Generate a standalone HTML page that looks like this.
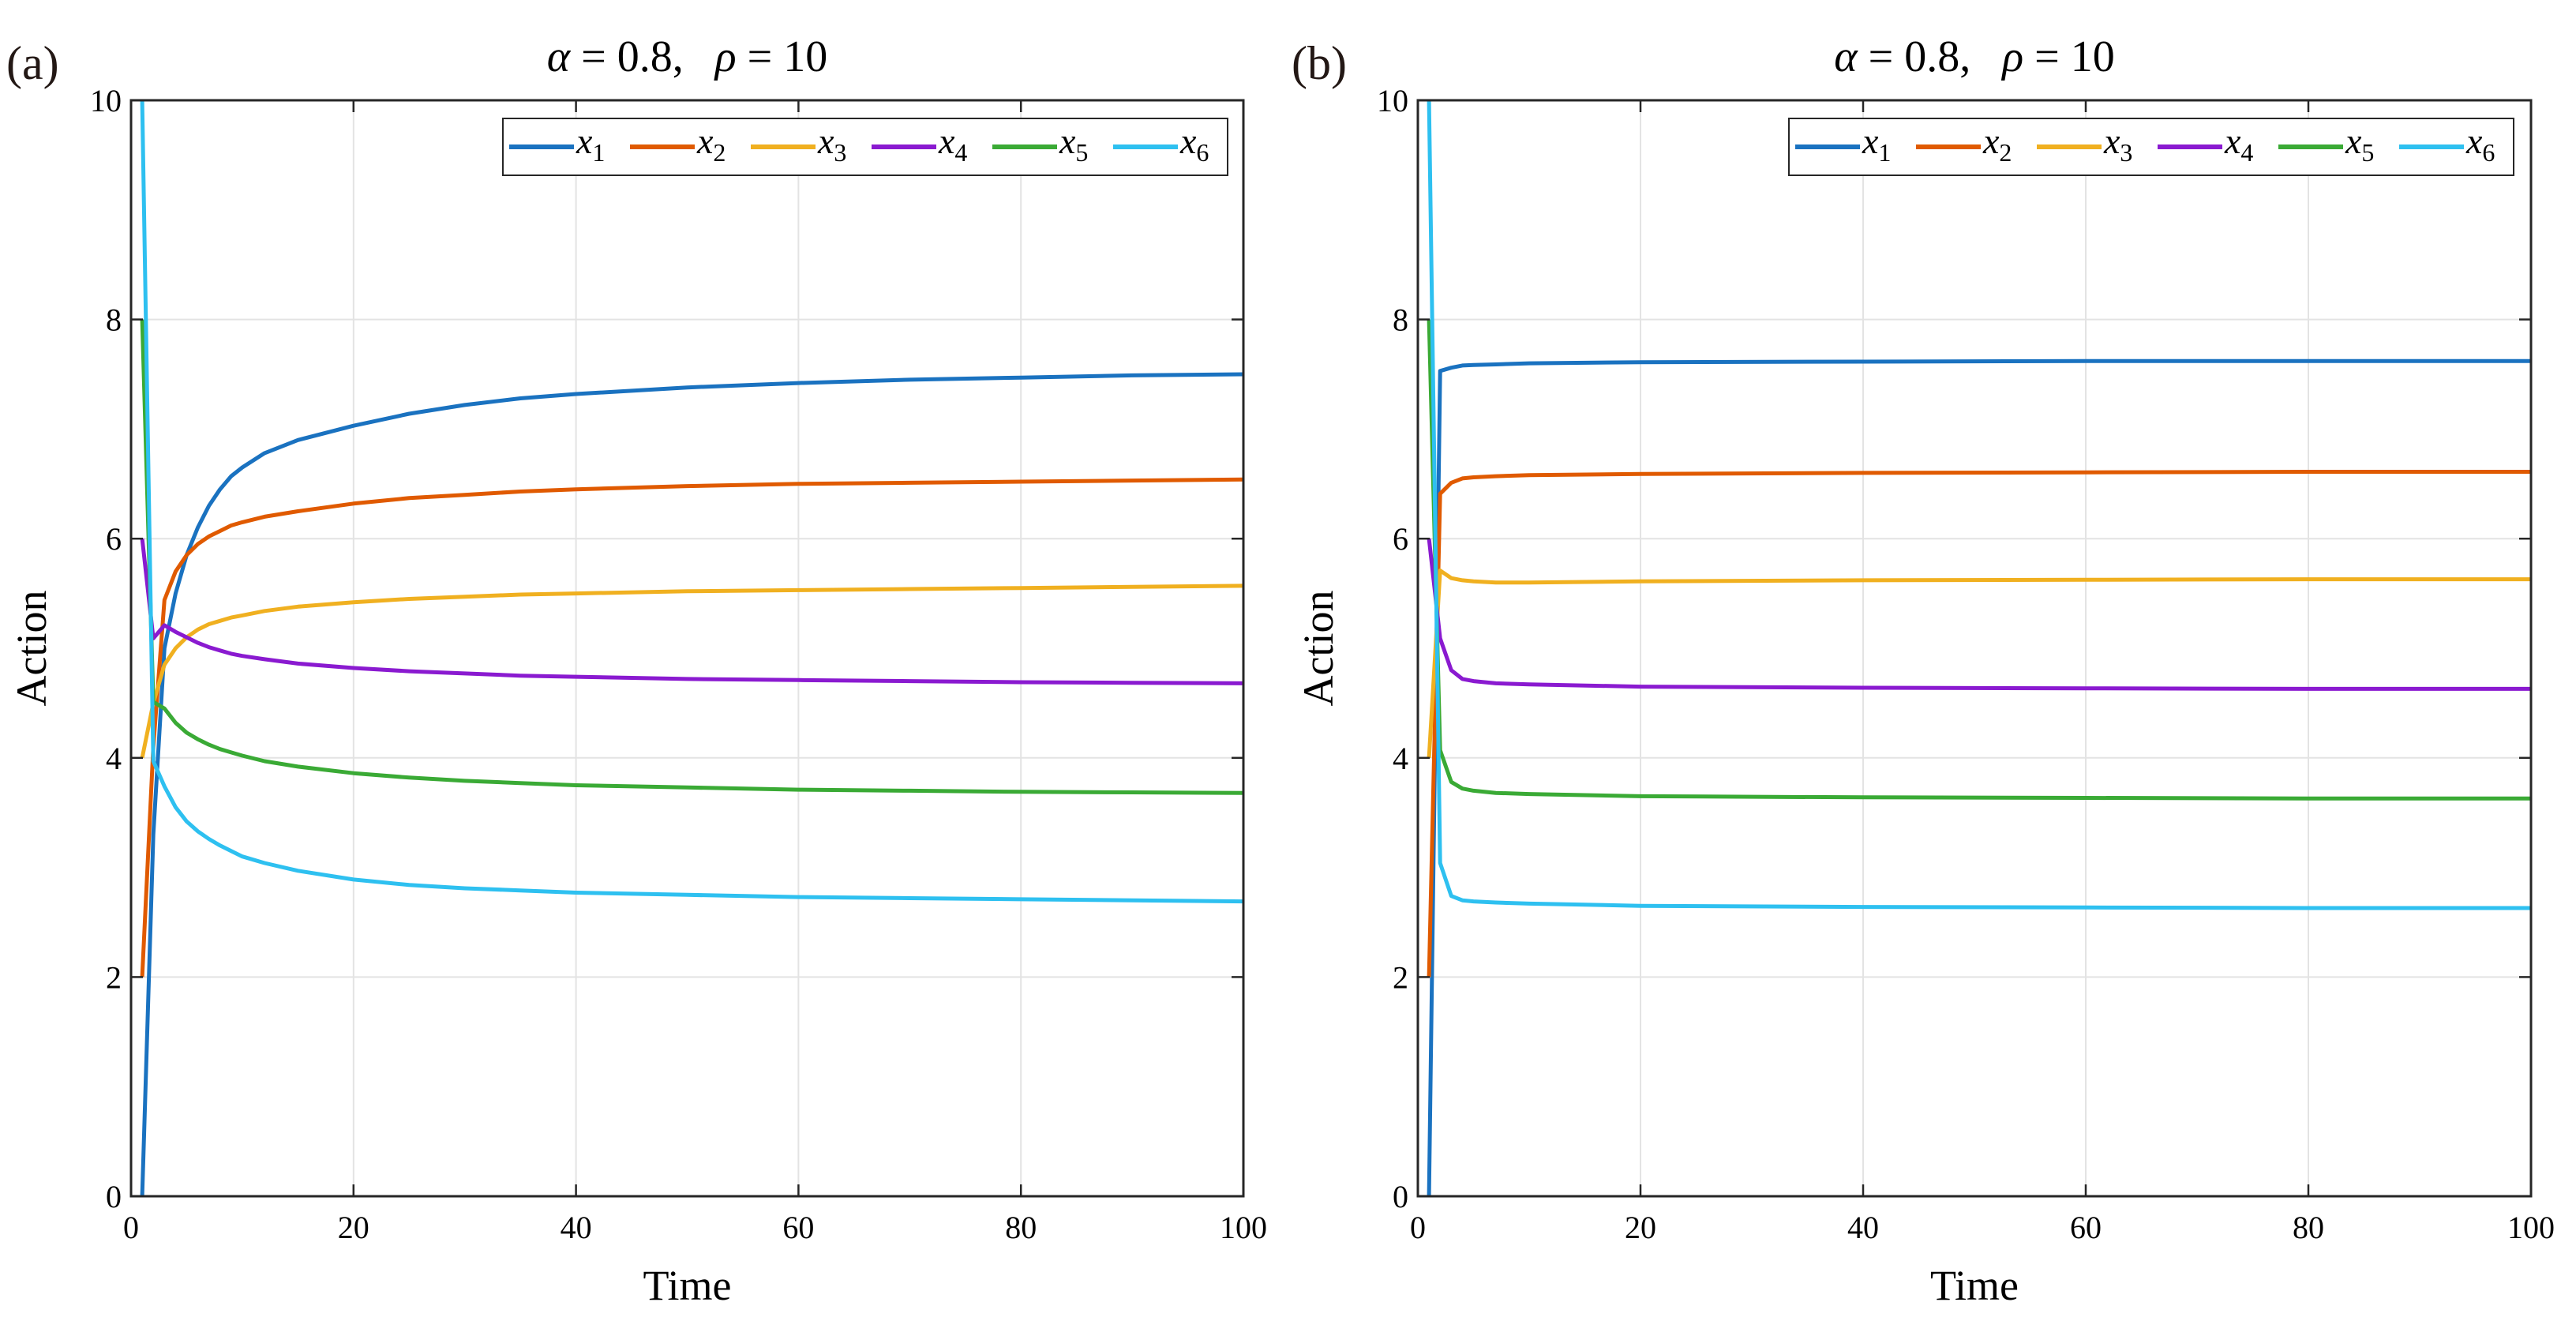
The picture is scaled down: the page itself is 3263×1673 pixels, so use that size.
<!DOCTYPE html>
<html><head><meta charset="utf-8"><style>
html,body{margin:0;padding:0;background:#fff;}
svg{display:block;font-family:"Liberation Serif",serif;}
</style></head><body>
<svg id="fig" width="3263" height="1673" viewBox="0 0 3263 1673" xmlns="http://www.w3.org/2000/svg"></svg>
<script>
const xTicks = [0,20,40,60,80,100];
const yTicks = [0,2,4,6,8,10];
const seriesNames = ["x1","x2","x3","x4","x5","x6"];
const colorsFixed = ["#1a72c0","#e05a00","#f0b020","#8a1ad0","#3aaa35","#2ec0f0"];

const timeA = [1,2,3,4,5,6,7,8,9,10,12,15,20,25,30,35,40,50,60,70,80,90,100];
const a_x1 = [0,3.3,5.0,5.5,5.85,6.1,6.3,6.45,6.57,6.65,6.78,6.9,7.03,7.14,7.22,7.28,7.32,7.38,7.42,7.45,7.47,7.49,7.5];
const a_x2 = [2,4.1,5.44,5.7,5.85,5.95,6.02,6.07,6.12,6.15,6.2,6.25,6.32,6.37,6.4,6.43,6.45,6.48,6.5,6.51,6.52,6.53,6.54];
const a_x3 = [4,4.5,4.85,5.0,5.1,5.17,5.22,5.25,5.28,5.3,5.34,5.38,5.42,5.45,5.47,5.49,5.5,5.52,5.53,5.54,5.55,5.56,5.57];
const a_x4 = [6,5.09,5.21,5.15,5.1,5.05,5.01,4.98,4.95,4.93,4.9,4.86,4.82,4.79,4.77,4.75,4.74,4.72,4.71,4.70,4.69,4.685,4.68];
const a_x5 = [8,4.51,4.45,4.32,4.23,4.17,4.12,4.08,4.05,4.02,3.97,3.92,3.86,3.82,3.79,3.77,3.75,3.73,3.71,3.70,3.69,3.685,3.68];
const a_x6 = [10,3.97,3.74,3.55,3.42,3.33,3.26,3.2,3.15,3.1,3.04,2.97,2.89,2.84,2.81,2.79,2.77,2.75,2.73,2.72,2.71,2.70,2.69];

const timeB = [1,2,3,4,5,7,10,20,40,60,80,100];
const b_x1 = [0,7.53,7.56,7.58,7.585,7.59,7.6,7.61,7.615,7.62,7.62,7.62];
const b_x2 = [2,6.41,6.51,6.55,6.56,6.57,6.58,6.59,6.6,6.605,6.61,6.61];
const b_x3 = [4,5.71,5.64,5.62,5.61,5.6,5.6,5.61,5.62,5.625,5.63,5.63];
const b_x4 = [6,5.09,4.8,4.72,4.7,4.68,4.67,4.65,4.64,4.635,4.63,4.63];
const b_x5 = [8,4.07,3.78,3.72,3.7,3.68,3.67,3.65,3.64,3.635,3.63,3.63];
const b_x6 = [10,3.04,2.74,2.7,2.69,2.68,2.67,2.65,2.64,2.635,2.63,2.63];

const NS="http://www.w3.org/2000/svg";
const svg=document.getElementById('fig');
function mk(tag,attrs,parent){const e=document.createElementNS(NS,tag);for(const k in attrs)e.setAttribute(k,attrs[k]);(parent||svg).appendChild(e);return e;}

function panel(opts){
  const L=opts.left,R=opts.right,T=127,B=1515;
  const xs=v=>L+(v-0)/100*(R-L);
  const ys=v=>B-(v-0)/10*(B-T);
  const g=mk('g',{});
  
  
  xTicks.forEach(t=>{const l=mk('line',{x1:xs(t),x2:xs(t),y1:T,y2:B,stroke:'#e3e3e3','stroke-width':2},g);
    });
  yTicks.forEach(t=>{const l=mk('line',{x1:L,x2:R,y1:ys(t),y2:ys(t),stroke:'#e3e3e3','stroke-width':2},g);
    });
  opts.data.forEach((vals,i)=>{
    const pts=vals.map((v,j)=>xs(opts.time[j]).toFixed(1)+','+ys(v).toFixed(1)).join(' ');
    const p=mk('polyline',{points:pts,fill:'none',stroke:colorsFixed[i],'stroke-width':5,'stroke-linejoin':'round'},g);
    
    
  });
  xTicks.forEach(t=>{
    mk('line',{x1:xs(t),x2:xs(t),y1:B,y2:B-15,stroke:'#262626','stroke-width':2.5},g);
    mk('line',{x1:xs(t),x2:xs(t),y1:T,y2:T+15,stroke:'#262626','stroke-width':2.5},g);
    const tx=mk('text',{x:xs(t),y:1568,'font-size':40,'text-anchor':'middle',fill:'#000'},g);
    tx.textContent=t;
  });
  yTicks.forEach(t=>{
    mk('line',{x1:L,x2:L+15,y1:ys(t),y2:ys(t),stroke:'#262626','stroke-width':2.5},g);
    mk('line',{x1:R,x2:R-15,y1:ys(t),y2:ys(t),stroke:'#262626','stroke-width':2.5},g);
    const tx=mk('text',{x:L-12,y:ys(t)+14,'font-size':40,'text-anchor':'end',fill:'#000'},g);
    tx.textContent=t;
  });
  const box=mk('rect',{x:L,y:T,width:R-L,height:B-T,fill:'none',stroke:'#262626','stroke-width':3},g);
  
  const cx=(L+R)/2;
  const ti=mk('text',{x:cx,y:90,'font-size':56,'text-anchor':'middle',fill:'#000'},g);
  ti.innerHTML='<tspan font-style="italic">α</tspan> = 0.8,<tspan dx="40" font-style="italic">ρ</tspan> = 10';
  
  const lab=mk('text',{x:opts.labelX,y:100,'font-size':60,fill:'#231815'},g);
  lab.textContent=opts.label;
  const xl=mk('text',{x:cx,y:1646,'font-size':54,'text-anchor':'middle',fill:'#000'},g);
  xl.textContent='Time';
  const yl=mk('text',{x:0,y:0,'font-size':54,'text-anchor':'middle',fill:'#000',transform:`translate(${L-108},${(T+B)/2}) rotate(-90)`},g);
  yl.textContent='Action';
  const lx=opts.legendLeft, lw=918, ly=150, lh=72;
  const lg=mk('g',{},g);
  
  mk('rect',{x:lx,y:ly,width:lw,height:lh,fill:'#fff',stroke:'#262626','stroke-width':2},lg);
  seriesNames.forEach((n,i)=>{
    const ex=lx+8+i*153;
    const e=mk('g',{},lg);
    
    mk('line',{x1:ex,x2:ex+82,y1:186,y2:186,stroke:colorsFixed[i],'stroke-width':6},e);
    const t=mk('text',{x:ex+85,y:194,'font-size':46,fill:'#000'},e);
    t.innerHTML='<tspan font-style="italic">x</tspan><tspan font-size="32" dy="10">'+(i+1)+'</tspan>';
  });
}
panel({name:'panel-a',left:166,right:1575,time:timeA,data:[a_x1,a_x2,a_x3,a_x4,a_x5,a_x6],label:'(a)',labelX:8,legendLeft:637});
panel({name:'panel-b',left:1796,right:3206,time:timeB,data:[b_x1,b_x2,b_x3,b_x4,b_x5,b_x6],label:'(b)',labelX:1636,legendLeft:2266});
</script>
</body></html>
